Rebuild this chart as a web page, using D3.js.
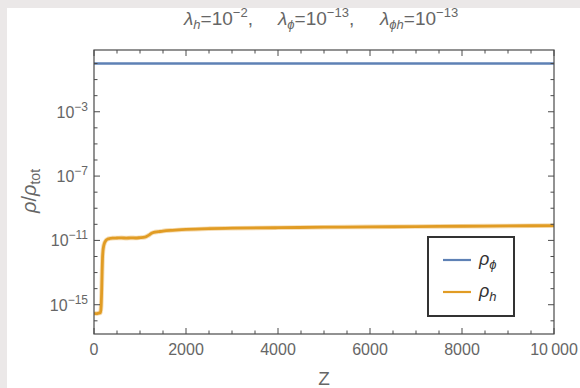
<!DOCTYPE html>
<html>
<head>
<meta charset="utf-8">
<script src="https://cdn.jsdelivr.net/npm/d3@7"></script>
<style>
  html, body { margin: 0; padding: 0; background: #fff; }
  svg { display: block; font-family: "Liberation Sans", Arial, sans-serif; }
</style>
</head>
<body>
<svg id="chart" width="580" height="388"></svg>
<script>
// Energy-density fractions versus z
const phiZ = [0, 10000];
const phiLog = [0, 0];

const hZ = [0, 60, 100, 140, 155, 165, 175, 185, 195, 210, 230, 260, 300, 350, 400, 500, 600, 700, 800, 900, 1000, 1100, 1150, 1200, 1250, 1300, 1400, 1500, 1700, 2000, 2500, 3000, 4000, 5000, 6000, 7000, 8000, 9000, 10000];
const hLog = [-15.53, -15.55, -15.52, -15.5, -15.1, -14.3, -13.1, -12.1, -11.65, -11.35, -11.15, -11.0, -10.92, -10.88, -10.86, -10.85, -10.84, -10.86, -10.84, -10.85, -10.83, -10.8, -10.74, -10.66, -10.56, -10.5, -10.46, -10.42, -10.37, -10.32, -10.27, -10.24, -10.21, -10.18, -10.16, -10.14, -10.12, -10.1, -10.08];

const xTickValues = [0, 2000, 4000, 6000, 8000, 10000];
const xTickLabels = ["0", "2000", "4000", "6000", "8000", "10\u2009000"];
const yTickExps = [-15, -11, -7, -3];
const yMinorExps = d3.range(-16, 1);

const svg = d3.select("#chart");

// light grey frame strips along the top and left edges
svg.append("rect").attr("x", 0).attr("y", 0).attr("width", 580).attr("height", 8).attr("fill", "#ebe8e8");
svg.append("rect").attr("x", 0).attr("y", 0).attr("width", 7).attr("height", 388).attr("fill", "#ebe8e8");

const plot = { left: 94, right: 554, top: 50, bottom: 334 };
const x = d3.scaleLinear().domain([0, 10000]).range([plot.left, plot.right]);
const y = d3.scaleLog().domain([Math.pow(10, -16.82), Math.pow(10, 0.84)]).range([plot.bottom, plot.top]);

const axisColor = "#4a4a4a";
const textColor = "#666";

// title: coupling constants
const groups = [
  { x: 184, sub: "h", exp: "\u22122", comma: true },
  { x: 278, sub: "\u03d5", exp: "\u221213", comma: true },
  { x: 380, sub: "\u03d5h", exp: "\u221213", comma: false }
];
groups.forEach(gp => {
  const t = svg.append("text").attr("x", gp.x).attr("y", 25).attr("font-size", 19).attr("fill", textColor);
  t.append("tspan").attr("font-style", "italic").text("\u03bb");
  t.append("tspan").attr("font-style", "italic").attr("font-size", 13).attr("dy", 4).text(gp.sub);
  t.append("tspan").attr("dy", -4).text("=10");
  t.append("tspan").attr("font-size", 13).attr("dy", -8).text(gp.exp);
  if (gp.comma) t.append("tspan").attr("dy", 8).text(",");
});

// clipped series
svg.append("clipPath").attr("id", "clip").append("rect")
  .attr("x", plot.left).attr("y", plot.top)
  .attr("width", plot.right - plot.left).attr("height", plot.bottom - plot.top);

const line = d3.line().x(d => x(d[0])).y(d => y(Math.pow(10, d[1])));
const g = svg.append("g").attr("clip-path", "url(#clip)");
g.append("path").datum(d3.zip(phiZ, phiLog)).attr("d", line)
  .attr("fill", "none").attr("stroke", "#5e81b5").attr("stroke-width", 2.6);
const hPath = line.curve(d3.curveMonotoneX)(d3.zip(hZ, hLog));
g.append("path").attr("d", hPath)
  .attr("fill", "none").attr("stroke", "#e19c24").attr("stroke-opacity", 0.35)
  .attr("stroke-width", 4.6).attr("stroke-linejoin", "round");
g.append("path").attr("d", hPath)
  .attr("fill", "none").attr("stroke", "#e19c24").attr("stroke-width", 2.8).attr("stroke-linejoin", "round");

// frame
svg.append("rect").attr("x", plot.left).attr("y", plot.top)
  .attr("width", plot.right - plot.left).attr("height", plot.bottom - plot.top)
  .attr("fill", "none").attr("stroke", axisColor).attr("stroke-width", 1.2);

// x ticks (bottom and top)
const xMinor = d3.range(0, 10001, 500);
xMinor.forEach(v => {
  const major = v % 2000 === 0;
  const len = major ? 6 : 3.5;
  svg.append("line").attr("x1", x(v)).attr("x2", x(v)).attr("y1", plot.bottom).attr("y2", plot.bottom - len)
    .attr("stroke", axisColor).attr("stroke-width", 1);
  svg.append("line").attr("x1", x(v)).attr("x2", x(v)).attr("y1", plot.top).attr("y2", plot.top + len)
    .attr("stroke", axisColor).attr("stroke-width", 1);
});
svg.selectAll(".xl").data(xTickValues).enter().append("text")
  .attr("x", d => x(d)).attr("y", 355).attr("text-anchor", "middle")
  .attr("font-size", 16).attr("fill", textColor)
  .text((d, i) => xTickLabels[i]);

// y ticks (left and right)
yMinorExps.forEach(e => {
  const major = yTickExps.includes(e);
  const len = major ? 6 : 3.5;
  const yy = y(Math.pow(10, e));
  svg.append("line").attr("x1", plot.left).attr("x2", plot.left + len).attr("y1", yy).attr("y2", yy)
    .attr("stroke", axisColor).attr("stroke-width", 1);
  svg.append("line").attr("x1", plot.right).attr("x2", plot.right - len).attr("y1", yy).attr("y2", yy)
    .attr("stroke", axisColor).attr("stroke-width", 1);
});
yTickExps.forEach(e => {
  const t = svg.append("text").attr("x", 88).attr("y", y(Math.pow(10, e)) + 6)
    .attr("text-anchor", "end").attr("font-size", 16).attr("fill", textColor);
  t.append("tspan").text("10");
  t.append("tspan").attr("font-size", 12).attr("dy", -7).text("\u2212" + Math.abs(e));
});

// axis titles
svg.append("text").attr("x", 324).attr("y", 385).attr("text-anchor", "middle")
  .attr("font-size", 19).attr("fill", textColor).text("Z");
const yl = svg.append("text").attr("transform", "translate(36,191) rotate(-90)")
  .attr("text-anchor", "middle").attr("font-size", 20).attr("fill", textColor);
yl.append("tspan").attr("font-style", "italic").text("\u03c1");
yl.append("tspan").text("/");
yl.append("tspan").attr("font-style", "italic").text("\u03c1");
yl.append("tspan").attr("font-size", 14).attr("dy", 4).text("tot");

// legend
const legend = svg.append("g");
legend.append("rect").attr("x", 428).attr("y", 237).attr("width", 86).attr("height", 79)
  .attr("fill", "#fff").attr("stroke", "#333").attr("stroke-width", 2);
const legendItems = [
  { color: "#5e81b5", sub: "\u03d5", y: 260 },
  { color: "#e19c24", sub: "h", y: 292 }
];
legendItems.forEach(it => {
  legend.append("line").attr("x1", 443).attr("x2", 471).attr("y1", it.y).attr("y2", it.y)
    .attr("stroke", it.color).attr("stroke-width", 2.2);
  const t = legend.append("text").attr("x", 479).attr("y", it.y + 5).attr("font-size", 18).attr("fill", "#333");
  t.append("tspan").attr("font-style", "italic").text("\u03c1");
  t.append("tspan").attr("font-style", "italic").attr("font-size", 13).attr("dy", 4).text(it.sub);
});
</script>
</body>
</html>
